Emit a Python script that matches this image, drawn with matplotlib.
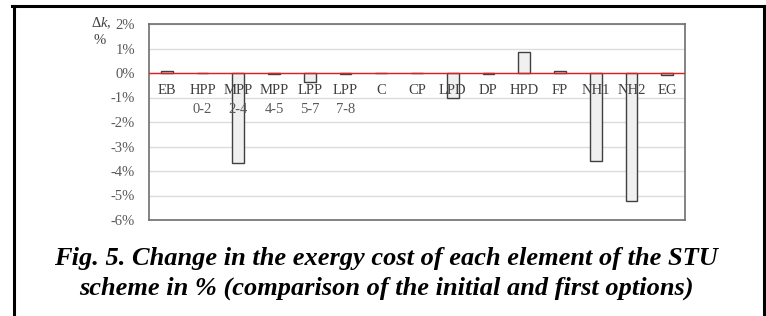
import matplotlib
matplotlib.use("Agg")
import matplotlib.pyplot as plt
from matplotlib.lines import Line2D
import numpy as np

categories = ["EB", "HPP\n0-2", "MPP\n2-4", "MPP\n4-5", "LPP\n5-7", "LPP\n7-8", "C", "CP",
              "LPD", "DP", "HPD", "FP", "NH1", "NH2", "EG"]
delta_k = [0.10, 0.0, -3.66, -0.03, -0.37, -0.05, 0.0, 0.0,
           -1.00, -0.03, 0.87, 0.10, -3.60, -5.22, -0.08]
y_ticks = [2, 1, 0, -1, -2, -3, -4, -5, -6]

plt.rcParams['font.family'] = ['Liberation Serif', 'DejaVu Serif']
plt.rcParams['mathtext.fontset'] = 'custom'
plt.rcParams['mathtext.rm'] = 'Liberation Serif'
plt.rcParams['mathtext.it'] = 'Liberation Serif:italic'

W, H = 766, 316
fig = plt.figure(figsize=(W / 100, H / 100), dpi=100)

def px_axes(l, t, r, b):
    return [l / W, 1 - b / H, (r - l) / W, (b - t) / H]

ax = fig.add_axes(px_axes(149, 24, 685, 220))
x = np.arange(len(categories))
ax.set_xlim(-0.5, len(categories) - 0.5)
ax.set_ylim(-6, 2)

for yt in y_ticks:
    ax.axhline(yt, color="#dcdcdc", lw=1.0, zorder=0)

ax.bar(x, delta_k, width=0.33, color="#f0f0f0", edgecolor="#404040", linewidth=1.0, zorder=2)
ax.axhline(0, color="#e02020", lw=1.0, zorder=3)

ax.set_yticks(y_ticks)
ax.set_yticklabels([f"{v}%" for v in y_ticks], color="#595959", fontsize=10.5)
ax.tick_params(axis="y", length=0, pad=10)
ax.set_xticks([])

for xi, lab in zip(x, categories):
    parts = lab.split("\n")
    ax.text(xi, -0.72, parts[0], ha="center", va="center", fontsize=10.5, color="#404040", zorder=4)
    if len(parts) > 1:
        ax.text(xi, -1.5, parts[1], ha="center", va="center", fontsize=10.5, color="#595959", zorder=4)

for s in ax.spines.values():
    s.set_color("#6e6e6e")
    s.set_linewidth(1.2)

fig.text(91 / W, 1 - 23 / H, r"$\mathrm{\Delta}k$,", fontsize=10.5, color="#404040", ha="left", va="center")
fig.text(93 / W, 1 - 41 / H, "%", fontsize=10.5, color="#404040", ha="left", va="center")

fig.text(386 / W, 1 - 259 / H, "Fig. 5. Change in the exergy cost of each element of the STU",
         fontsize=19, fontweight="bold", style="italic", ha="center", va="center", color="black")
fig.text(386 / W, 1 - 288 / H, "scheme in % (comparison of the initial and first options)",
         fontsize=19, fontweight="bold", style="italic", ha="center", va="center", color="black")

# black frame
fig.add_artist(Line2D([13.5 / W, 13.5 / W], [0, 1 - 5.5 / H], color="black", lw=2.2, transform=fig.transFigure))
fig.add_artist(Line2D([12 / W, 766 / W], [1 - 5.5 / H, 1 - 5.5 / H], color="black", lw=2.2, transform=fig.transFigure))
fig.add_artist(Line2D([764 / W, 764 / W], [0, 1 - 5.5 / H], color="black", lw=2.2, transform=fig.transFigure))

fig.savefig("out.png", dpi=100)
